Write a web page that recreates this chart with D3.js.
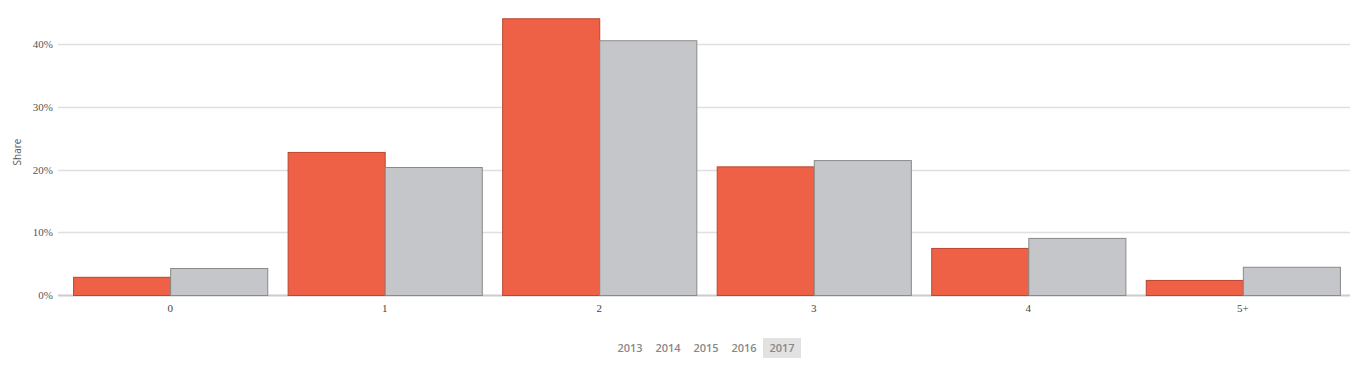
<!DOCTYPE html>
<html><head><meta charset="utf-8">
<script src="https://cdn.jsdelivr.net/npm/d3@7"></script>
<style>body{margin:0;background:#fff;}svg{display:block;}</style>
</head><body><svg id="c" width="1355" height="366"></svg>
<script>
const categories = ["0","1","2","3","4","5+"];
const seriesA = [2.9, 22.8, 44.1, 20.5, 7.5, 2.4];
const seriesB = [4.3, 20.4, 40.6, 21.5, 9.1, 4.5];
const yTicks = [0, 10, 20, 30, 40];
const years = ["2013","2014","2015","2016","2017"];
const activeYear = "2017";

const svg = d3.select("#c");
const x = d3.scaleBand().domain(categories).range([63, 1350]).paddingInner(0.095).paddingOuter(0.047);
const y = d3.scaleLinear().domain([0, 40]).range([295, 44]);

svg.append("g").selectAll("line").data(yTicks).join("line")
  .attr("x1", 58).attr("x2", 1350)
  .attr("y1", d => Math.round(y(d)) + 0.5).attr("y2", d => Math.round(y(d)) + 0.5)
  .attr("stroke", d => d === 0 ? "#ccc" : "#e0e0e0").attr("stroke-width", d => d === 0 ? 2 : 1.5);

const yAxis = d3.axisLeft(y).tickValues(yTicks).tickFormat(d => d + "%").tickSize(0).tickPadding(5);
const ga = svg.append("g").attr("transform", "translate(58,0)").call(yAxis);
ga.select(".domain").remove();
ga.selectAll("text").attr("font-family", "Liberation Serif, serif").attr("font-size", 11).attr("fill", "#555");

const xAxis = d3.axisBottom(x).tickSize(0).tickPadding(8);
const gx = svg.append("g").attr("transform", "translate(0,296)").call(xAxis);
gx.select(".domain").remove();
gx.selectAll("text").attr("font-family", "Liberation Serif, serif").attr("font-size", 11).attr("fill", "#444");

const half = x.bandwidth() / 2;
const g = svg.append("g");
g.selectAll("rect.a").data(categories).join("rect").attr("class", "a")
  .attr("x", d => x(d) + 0.5).attr("width", half)
  .attr("y", (d, i) => y(seriesA[i]) + 0.5).attr("height", (d, i) => y(0) - y(seriesA[i]))
  .attr("fill", "#EE6146").attr("stroke", "#b9472f").attr("stroke-width", 1);
g.selectAll("rect.b").data(categories).join("rect").attr("class", "b")
  .attr("x", d => x(d) + half + 0.5).attr("width", half)
  .attr("y", (d, i) => y(seriesB[i]) + 0.5).attr("height", (d, i) => y(0) - y(seriesB[i]))
  .attr("fill", "#C5C6CA").attr("stroke", "#8a8a8a").attr("stroke-width", 1);

svg.append("text").attr("transform", "translate(21,152) rotate(-90)")
  .attr("text-anchor", "middle").attr("font-family", "Open Sans, sans-serif").attr("font-size", 10)
  .attr("fill", "#555").text("Share");

const lg = svg.append("g");
const bx = d3.scaleBand().domain(years).range([611, 801]).padding(0);
lg.selectAll("rect").data(years.filter(d => d === activeYear)).join("rect")
  .attr("x", d => bx(d)).attr("y", 338).attr("width", bx.bandwidth()).attr("height", 20).attr("fill", "#e2e2e2");
lg.selectAll("text").data(years).join("text")
  .attr("x", d => bx(d) + bx.bandwidth() / 2).attr("y", 352).attr("text-anchor", "middle")
  .attr("font-family", "Open Sans, sans-serif").attr("font-size", 11).attr("font-weight", 600)
  .attr("fill", "#888").text(d => d);
</script></body></html>
